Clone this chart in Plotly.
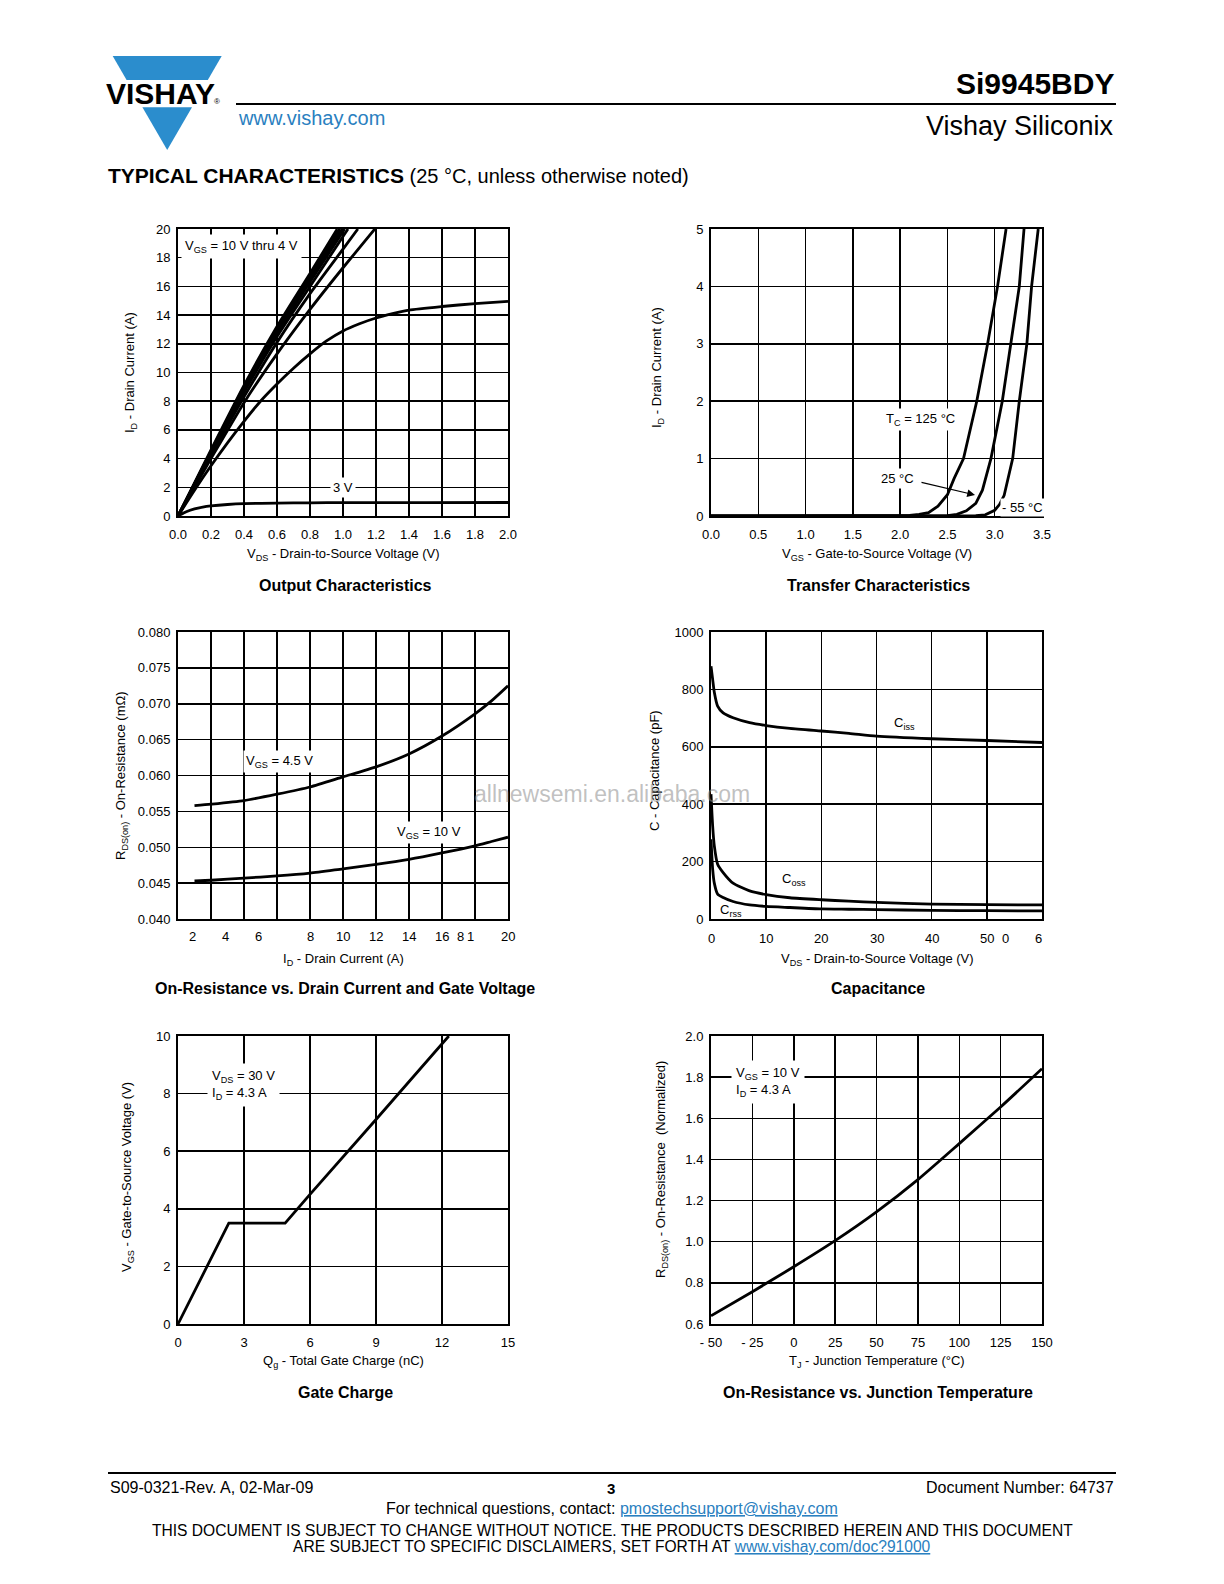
import plotly.graph_objects as go

# ----------------------------- DATA -----------------------------
# Output characteristics (VDS in V, ID in A)
out_b1_v = [0, 0.2, 0.4, 0.6, 0.8, 0.965]
out_b1_i = [0, 4.6, 9.1, 13.2, 16.9, 20]
out_b2_v = [0, 0.2, 0.4, 0.6, 0.8, 0.98]
out_b2_i = [0, 4.5, 9.0, 13.0, 16.7, 20]
out_b3_v = [0, 0.2, 0.4, 0.6, 0.8, 0.995]
out_b3_i = [0, 4.45, 8.9, 12.9, 16.5, 20]
out_b4_v = [0, 0.2, 0.4, 0.6, 0.8, 1.01]
out_b4_i = [0, 4.4, 8.8, 12.7, 16.3, 20]
out_b5_v = [0, 0.2, 0.4, 0.6, 0.8, 1.03]
out_b5_i = [0, 4.3, 8.6, 12.5, 16.0, 20]
out_c6_v = [0, 0.2, 0.4, 0.6, 0.8, 1.0, 1.09]
out_c6_i = [0, 4.2, 8.3, 12.1, 15.5, 18.6, 20]
out_c7_v = [0, 0.2, 0.4, 0.6, 0.8, 1.0, 1.2]
out_c7_i = [0, 4.0, 7.9, 11.3, 14.4, 17.3, 20.1]
out_c8_v = [0, 0.1, 0.2, 0.3, 0.4, 0.5, 0.6, 0.7, 0.8, 0.9, 1.0, 1.1, 1.2, 1.3, 1.4, 1.6, 1.8, 2.0]
out_c8_i = [0, 1.8, 3.5, 5.1, 6.6, 8.0, 9.2, 10.3, 11.3, 12.2, 12.9, 13.4, 13.8, 14.1, 14.35, 14.6, 14.8, 14.95]
out_3v_v = [0, 0.05, 0.1, 0.15, 0.2, 0.3, 0.4, 0.6, 0.8, 1.0, 1.5, 2.0]
out_3v_i = [0, 0.3, 0.5, 0.62, 0.7, 0.8, 0.86, 0.9, 0.92, 0.93, 0.93, 0.94]

# Transfer characteristics (VGS in V, ID in A)
tr125_v = [0, 1.9, 2.1, 2.2, 2.3, 2.4, 2.5, 2.57, 2.67, 2.81, 2.925, 3.03, 3.12]
tr125_i = [0, 0, 0.01, 0.03, 0.06, 0.17, 0.37, 0.65, 1.0, 2.0, 3.0, 4.0, 5.0]
tr25_v = [0, 2.4, 2.5, 2.6, 2.7, 2.8, 2.87, 2.96, 3.08, 3.17, 3.26, 3.31]
tr25_i = [0, 0, 0.005, 0.03, 0.09, 0.22, 0.45, 1.0, 2.0, 3.0, 4.0, 5.0]
trm55_v = [0, 2.7, 2.8, 2.9, 3.0, 3.05, 3.1, 3.19, 3.26, 3.34, 3.39, 3.46]
trm55_i = [0, 0, 0.005, 0.02, 0.1, 0.2, 0.36, 1.0, 2.0, 3.0, 4.0, 5.0]

# On-resistance vs drain current
ron_id = [1, 2, 4, 6, 8, 10, 12, 14, 16, 18, 19, 20]
ron_45 = [0.0558, 0.0560, 0.0565, 0.0574, 0.0584, 0.0598, 0.0612, 0.0630, 0.0655, 0.0686, 0.0704, 0.0725]
ron_10 = [0.0453, 0.0454, 0.0457, 0.0460, 0.0464, 0.0470, 0.0476, 0.0483, 0.0492, 0.0502, 0.0508, 0.0514]
ron_xtick_pos = [-1.1, 0.9, 2.9, 4.9, 8, 10, 12, 14, 16, 17.1, 17.7, 20]
ron_xtick_txt = ["0", "2", "4", "6", "8", "10", "12", "14", "16", "8", "1", "20"]

# Capacitance
cap_v = [0, 0.3, 0.6, 1.2, 2.2, 4, 7, 10, 14.3, 20, 25, 30, 40, 50, 60]
cap_ciss = [881, 835, 790, 742, 718, 701, 684, 674, 664, 655, 647, 637, 628, 622, 615]
cap_coss = [435, 324, 255, 191, 162, 125, 98, 85, 74, 67, 62, 58, 52, 50, 49]
cap_crss = [278, 174, 125, 87, 75, 61, 49, 44, 40, 35, 34, 33, 30, 29, 28]
cap_xtick_pos = [0, 10, 20, 30, 40, 50, 53.3, 59.3]
cap_xtick_txt = ["0", "10", "20", "30", "40", "50", "0", "6"]

# Gate charge
gc_q = [0, 2.31, 4.87, 6, 9, 12.31]
gc_v = [0, 3.5, 3.5, 4.5, 7.1, 10]

# On-resistance vs junction temperature
tj_t = [-50, -25, 0, 25, 50, 75, 100, 125, 150]
tj_r = [0.640, 0.757, 0.878, 1.005, 1.145, 1.302, 1.477, 1.655, 1.841]
tj_xtick_pos = [-50, -25, 0, 25, 50, 75, 100, 125, 150]
tj_xtick_txt = ["- 50", "- 25", "0", "25", "50", "75", "100", "125", "150"]

# ----------------------------- GEOMETRY -----------------------------
OFF = 8
W, H = 1208, 1568
FONT = "Liberation Sans, Arial, sans-serif"
BLUE = "#2B8DCD"
LINK = "#2A80C0"


def fx(X):
    return (X - OFF) / W


def fy(Y):
    return 1 - (Y - OFF) / H


LX = (178, 508)
RX = (711, 1042)
R1 = (229, 516)
R2 = (632, 919)
R3 = (1036, 1324)

fig = go.Figure()

base_axis = dict(showline=True, linecolor="black", linewidth=2, mirror=True,
                 showgrid=True, gridcolor="black", gridwidth=1.5, zeroline=False,
                 ticks="", tickfont=dict(size=13, color="black", family=FONT),
                 fixedrange=True, automargin=False, layer="below traces")

layout_axes = {}


def add_axes(n, xr, yr, xrange, yrange, xaxis_extra, yaxis_extra):
    xa = dict(base_axis, domain=[fx(xr[0]), fx(xr[1])], range=xrange,
              anchor="y" if n == 1 else f"y{n}", ticklabelstandoff=5)
    xa.update(xaxis_extra)
    ya = dict(base_axis, domain=[fy(yr[1]), fy(yr[0])], range=yrange,
              anchor="x" if n == 1 else f"x{n}", ticklabelstandoff=3)
    ya.update(yaxis_extra)
    layout_axes["xaxis" if n == 1 else f"xaxis{n}"] = xa
    layout_axes["yaxis" if n == 1 else f"yaxis{n}"] = ya


add_axes(1, LX, R1, [0, 2], [0, 20], dict(dtick=0.2, tick0=0, tickformat=".1f"), dict(dtick=2, tick0=0))
add_axes(2, RX, R1, [0, 3.5], [0, 5], dict(dtick=0.5, tick0=0, tickformat=".1f"), dict(dtick=1, tick0=0))
add_axes(3, LX, R2, [0, 20], [0.04, 0.08], dict(dtick=2, tick0=0, showticklabels=False),
         dict(dtick=0.005, tick0=0.04, tickformat=".3f"))
add_axes(4, RX, R2, [0, 60], [0, 1000], dict(dtick=10, tick0=0, showticklabels=False), dict(dtick=200, tick0=0))
add_axes(5, LX, R3, [0, 15], [0, 10], dict(dtick=3, tick0=0), dict(dtick=2, tick0=0))
add_axes(6, RX, R3, [-50, 150], [0.6, 2.0],
         dict(tickmode="array", tickvals=tj_xtick_pos, ticktext=tj_xtick_txt),
         dict(dtick=0.2, tick0=0.6, tickformat=".1f"))

LINE = dict(color="black", width=2.8, shape="spline", smoothing=0.6)


def curve(x, y, n, shape="spline"):
    ln = dict(LINE)
    ln["shape"] = shape
    fig.add_trace(go.Scatter(x=x, y=y, mode="lines", line=ln, hoverinfo="skip",
                             showlegend=False,
                             xaxis="x" if n == 1 else f"x{n}",
                             yaxis="y" if n == 1 else f"y{n}"))


for xv, yv in [(out_b1_v, out_b1_i), (out_b2_v, out_b2_i), (out_b3_v, out_b3_i),
               (out_b4_v, out_b4_i), (out_b5_v, out_b5_i), (out_c6_v, out_c6_i),
               (out_c7_v, out_c7_i), (out_c8_v, out_c8_i), (out_3v_v, out_3v_i)]:
    curve(xv, yv, 1)
for xv, yv in [(tr125_v, tr125_i), (tr25_v, tr25_i), (trm55_v, trm55_i)]:
    curve(xv, yv, 2, "linear")
curve(ron_id, ron_45, 3)
curve(ron_id, ron_10, 3)
curve(cap_v, cap_ciss, 4)
curve(cap_v, cap_coss, 4)
curve(cap_v, cap_crss, 4)
curve(gc_q, gc_v, 5, "linear")
curve(tj_t, tj_r, 6)

ann = []


def txt(X, Y, s, size=13, xanchor="center", bg=None, color="black", angle=0, align="center", pad=1):
    d = dict(x=fx(X), y=fy(Y), xref="paper", yref="paper", text=s, showarrow=False,
             xanchor=xanchor, yanchor="middle", textangle=angle, align=align,
             font=dict(size=size, color=color, family=FONT), borderpad=pad)
    if bg:
        d["bgcolor"] = bg
    ann.append(d)


# header
txt(1116, 83, "<b>Si9945BDY</b>", size=30, xanchor="right")
txt(236, 118, "www.vishay.com", size=20, xanchor="left", color=LINK)
txt(1116, 126, "Vishay Siliconix", size=27, xanchor="right")
txt(106, 176, "<span style='font-size:21px'><b>TYPICAL CHARACTERISTICS</b></span> (25 °C, unless otherwise noted)",
    size=20, xanchor="left")
txt(160, 94, "<b>VISHAY</b>", size=30)
txt(216.5, 101, "®", size=8)

# chart titles
txt(345, 585, "<b>Output Characteristics</b>", size=16)
txt(878, 585, "<b>Transfer Characteristics</b>", size=16)
txt(345, 988, "<b>On-Resistance vs. Drain Current and Gate Voltage</b>", size=16)
txt(878, 988, "<b>Capacitance</b>", size=16)
txt(345, 1392, "<b>Gate Charge</b>", size=16)
txt(878, 1392, "<b>On-Resistance vs. Junction Temperature</b>", size=16)

# axis titles
txt(343, 555, "V<sub>DS</sub> - Drain-to-Source Voltage (V)")
txt(130, 373, "I<sub>D</sub> - Drain Current (A)", angle=-90)
txt(877, 555, "V<sub>GS</sub> - Gate-to-Source Voltage (V)")
txt(658, 368, "I<sub>D</sub> - Drain Current (A)", angle=-90)
txt(343, 959, "I<sub>D</sub> - Drain Current (A)")
txt(121, 776, "R<sub>DS(on)</sub> - On-Resistance (mΩ)", angle=-90)
txt(877, 959, "V<sub>DS</sub> - Drain-to-Source Voltage (V)")
txt(655, 771, "C - Capacitance (pF)", angle=-90)
txt(343, 1361, "Q<sub>g</sub> - Total Gate Charge (nC)")
txt(127, 1177, "V<sub>GS</sub> - Gate-to-Source Voltage (V)", angle=-90)
txt(877, 1361, "T<sub>J</sub> - Junction Temperature (°C)")
txt(661, 1170, "R<sub>DS(on)</sub> - On-Resistance  (Normalized)", angle=-90)

# garbled tick labels (chart 3 and 4)
for p, t in zip(ron_xtick_pos, ron_xtick_txt):
    ann.append(dict(x=p, y=fy(937), xref="x3", yref="paper", text=t, showarrow=False,
                    font=dict(size=13, color="black", family=FONT)))
for p, t in zip(cap_xtick_pos, cap_xtick_txt):
    ann.append(dict(x=p, y=fy(938), xref="x4", yref="paper", text=t, showarrow=False,
                    font=dict(size=13, color="black", family=FONT)))

# in-chart labels
txt(181, 246, "V<sub>GS</sub> = 10 V thru 4 V", xanchor="left", bg="white", pad=3)
txt(343, 487, "3 V", bg="white", pad=2)
txt(920, 419, "T<sub>C</sub> = 125 °C", bg="white", pad=2)
txt(897, 478, "25 °C", bg="white", pad=2)
txt(1022, 507, "- 55 °C", bg="white", pad=1)
ann.append(dict(x=fx(975), y=fy(495), xref="paper", yref="paper", text="", showarrow=True,
                ax=-55, ay=-13, arrowhead=2, arrowsize=1.3, arrowwidth=1.2, arrowcolor="black"))
txt(279, 761, "V<sub>GS</sub> = 4.5 V", bg="white", pad=2)
txt(429, 832, "V<sub>GS</sub> = 10 V", bg="white", pad=2)
txt(904, 723, "C<sub>iss</sub>", bg="white", pad=1)
txt(794, 879, "C<sub>oss</sub>", bg="white", pad=1)
txt(731, 911, "C<sub>rss</sub>")
txt(207, 1085, "V<sub>DS</sub> = 30 V<br>I<sub>D</sub> = 4.3 A", xanchor="left", align="left", bg="white", pad=4)
txt(731, 1082, "V<sub>GS</sub> = 10 V<br>I<sub>D</sub> = 4.3 A", xanchor="left", align="left", bg="white", pad=4)

# watermark
txt(612, 794, "allnewsemi.en.alibaba.com", size=23, color="rgba(140,140,140,0.55)")

# footer
txt(108, 1487, "S09-0321-Rev. A, 02-Mar-09", size=16, xanchor="left")
txt(611, 1488, "<b>3</b>", size=15)
txt(1116, 1487, "Document Number: 64737", size=16, xanchor="right")
txt(612, 1508, "For technical questions, contact: "
     f"<span style='color:{LINK};text-decoration:underline'>pmostechsupport@vishay.com</span>", size=16)
txt(612, 1530, "THIS DOCUMENT IS SUBJECT TO CHANGE WITHOUT NOTICE. THE PRODUCTS DESCRIBED HEREIN AND THIS DOCUMENT",
    size=15.6)
txt(612, 1546, "ARE SUBJECT TO SPECIFIC DISCLAIMERS, SET FORTH AT "
     f"<span style='color:{LINK};text-decoration:underline'>www.vishay.com/doc?91000</span>", size=15.6)

shapes = []


def poly(pts, color):
    path = "M " + " L ".join(f"{fx(a):.5f},{fy(b):.5f}" for a, b in pts) + " Z"
    shapes.append(dict(type="path", path=path, xref="paper", yref="paper",
                       fillcolor=color, line=dict(width=0), layer="below"))


def hline(x0, x1, y, w=2):
    shapes.append(dict(type="line", x0=fx(x0), x1=fx(x1), y0=fy(y), y1=fy(y),
                       xref="paper", yref="paper", line=dict(color="black", width=w)))


poly([(112.7, 56), (221.7, 56), (207.8, 80), (126.6, 80)], BLUE)
poly([(142.4, 107.3), (192, 107.3), (167.2, 150)], BLUE)
hline(236, 1116, 104, 2)
hline(108, 1116, 1473, 2)

fig.update_layout(template="none", width=W, height=H, autosize=False,
                  margin=dict(l=0, r=0, t=0, b=0, pad=0),
                  paper_bgcolor="white", plot_bgcolor="white",
                  showlegend=False, annotations=ann, shapes=shapes,
                  font=dict(family=FONT, color="black"), **layout_axes)

fig.write_html("out.html", config={"displayModeBar": False, "staticPlot": True})
